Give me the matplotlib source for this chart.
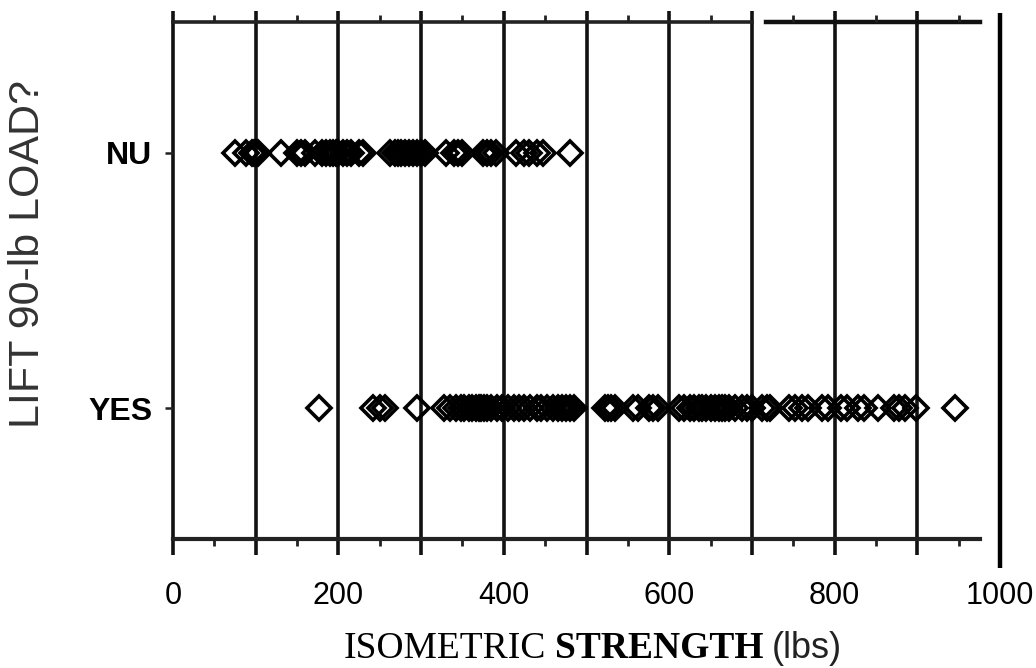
import matplotlib
matplotlib.use('Agg')

import numpy as np
import matplotlib.pyplot as plt
from matplotlib.ticker import FixedLocator

# isometric strength (lbs), one list per answer
nu_strength = [75, 88, 95, 98, 100, 103, 130, 150, 155, 160, 172, 180, 185, 190,
               193, 197, 200, 205, 210, 215, 225, 230, 262, 268, 272, 276, 280,
               285, 290, 295, 300, 305, 330, 340, 345, 350, 375, 380, 385, 390,
               415, 425, 430, 440, 448, 480]
yes_strength = [177, 242, 250, 256, 295, 328, 335, 342, 348, 352, 358, 362, 366,
                370, 373, 376, 380, 385, 392, 398, 405, 412, 418, 425, 432, 440,
                445, 452, 460, 466, 470, 475, 480, 485, 522, 526, 530, 535, 556,
                562, 575, 580, 586, 612, 618, 625, 630, 636, 640, 645, 650, 655,
                660, 664, 668, 672, 680, 688, 694, 700, 712, 718, 722, 745, 752,
                760, 768, 785, 792, 808, 815, 828, 835, 852, 872, 878, 885, 898,
                945]

cat_labels = ['YES', 'NU']
cat_pos = [0, 1]
xtick_vals = [0, 200, 400, 600, 800, 1000]
grid_vals = [0, 100, 200, 300, 400, 500, 600, 700, 800, 900]
minor_vals = [50, 150, 250, 350, 450, 550, 650, 750, 850, 950]

W, H = 1036, 668
fig = plt.figure(figsize=(W / 100, H / 100), dpi=100)
ax = fig.add_axes([173 / W, 1 - 539 / H, (1000 - 173) / W, (539 - 22) / H])

ax.set_xlim(0, 1000)
ax.set_ylim(-0.51, 1.51)
for s in ax.spines.values():
    s.set_visible(False)

xt = ax.get_xaxis_transform()
# vertical lines every 100, running a little past the frame
ax.vlines(grid_vals, -0.031, 1.021, transform=xt, colors='#111111', lw=2.6, clip_on=False, zorder=1)
ax.vlines([1000], -0.056, 1.017, transform=xt, colors='black', lw=3.2, clip_on=False, zorder=1)
# top line (with the small break) and bottom line
ax.plot([0, 700], [1, 1], transform=xt, color='#222222', lw=2.6, clip_on=False, zorder=1)
ax.plot([717, 976], [1, 1], transform=xt, color='#111111', lw=3.2, clip_on=False, zorder=1)
ax.plot([0, 976], [0, 0], transform=xt, color='#222222', lw=3.0, clip_on=False, zorder=1)

ax.plot(nu_strength, np.ones(len(nu_strength)), 'D', mfc='none', mec='black',
        ms=12.5, mew=2.6, clip_on=False, zorder=3)
ax.plot(yes_strength, np.zeros(len(yes_strength)), 'D', mfc='none', mec='black',
        ms=12.5, mew=2.6, clip_on=False, zorder=3)

ax.xaxis.set_major_locator(FixedLocator(xtick_vals))
ax.xaxis.set_minor_locator(FixedLocator(minor_vals))
ax.set_xticklabels([str(v) for v in xtick_vals], family='Liberation Sans', fontsize=22)
ax.tick_params(axis='x', which='major', length=0, pad=30)
ax.tick_params(axis='x', which='minor', top=True, bottom=True, direction='out',
               length=5, width=2, color='#222222')

ax.set_yticks(cat_pos)
ax.set_yticklabels(cat_labels, family='Liberation Sans', fontweight='bold', fontsize=23)
ax.tick_params(axis='y', length=6, width=1.8, pad=9, color='#222222')

fig.text(28 / W, 1 - 254 / H, 'LIFT 90-lb LOAD?', rotation=90, ha='center', va='center',
         family='Liberation Sans', fontsize=31, color='#333333')

# x label mixes three faces
t1 = fig.text(344 / W, 1 - 666 / H, 'ISOMETRIC', family='Liberation Serif',
              fontsize=27, va='bottom', ha='left')
t2 = ax.annotate('STRENGTH', xy=(1, 0), xycoords=t1, xytext=(6, 0), textcoords='offset points',
                 family='Liberation Serif', fontweight='bold', fontsize=27, va='bottom', ha='left')
ax.annotate('(lbs)', xy=(1, 0), xycoords=t2, xytext=(6, 0), textcoords='offset points',
            family='Liberation Sans', fontsize=26, va='bottom', ha='left', color='#222222')

fig.savefig('out.png', dpi=100)
